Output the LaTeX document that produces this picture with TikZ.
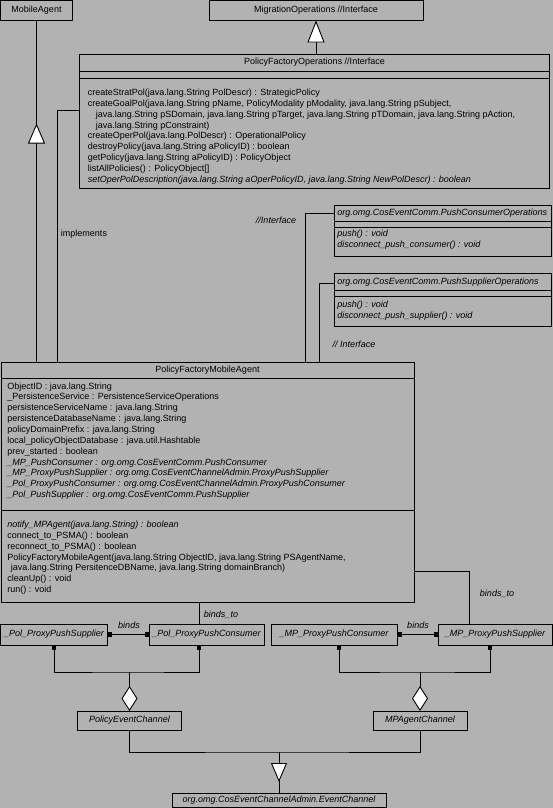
\documentclass[tikz,border=0pt]{standalone}
\usepackage{fontspec}
\setmainfont{Liberation Sans}
\usetikzlibrary{arrows.meta,calc}
\definecolor{bg}{RGB}{178,178,178}
\begin{document}
\begin{tikzpicture}[x=1pt,y=-1pt,
  line width=0.9pt,
  box/.style={draw, anchor=north west, inner sep=0pt, outer sep=0pt},
  txt/.style={anchor=west, inner sep=0pt, font=\fontsize{9}{11}\selectfont, text height=6.6pt, text depth=1.9pt},
  ttl/.style={txt, anchor=center},
  it/.style={font=\fontsize{9}{11}\selectfont\itshape},
  gen/.style={-{Triangle[length=20pt,width=17pt,fill=white]}},
  agg/.style={-{Diamond[length=25pt,width=16pt,fill=white]}},
  sq/.style={{Square[length=4.5pt,width=4.5pt]}-{Square[length=4.5pt,width=4.5pt]}},
]
\useasboundingbox (0,0) rectangle (553,808);
\fill[bg] (0,0) rectangle (553,808);

% ---------- boxes ----------
\node[box, minimum width=72pt, minimum height=20pt] (ma) at (0.5,0.5) {};
\node[box, minimum width=214pt, minimum height=20pt] (migr) at (209,0.5) {};
\node[box, minimum width=470pt, minimum height=134pt] (pfo) at (79.5,54) {};
\node[box, minimum width=413pt, minimum height=240pt] (pfma) at (1,362) {};
\node[box, minimum width=217pt, minimum height=51pt] (pco) at (334,205) {};
\node[box, minimum width=217pt, minimum height=53pt] (pso) at (334,273) {};
\node[box, minimum width=107pt, minimum height=21pt] (polsup) at (0.5,624) {};
\node[box, minimum width=115pt, minimum height=21pt] (polcon) at (149,624) {};
\node[box, minimum width=126pt, minimum height=21pt] (mpcon) at (271,624) {};
\node[box, minimum width=114pt, minimum height=21pt] (mpsup) at (438,624) {};
\node[box, minimum width=104pt, minimum height=19pt] (pec) at (77.5,711) {};
\node[box, minimum width=94pt, minimum height=19pt] (mpac) at (373,711) {};
\node[box, minimum width=214pt, minimum height=14pt] (ec) at (172,793.5) {};

% compartments
\draw ($(pfo.north west)+(0,17)$) -- ($(pfo.north east)+(0,17)$);
\draw ($(pfo.north west)+(0,24)$) -- ($(pfo.north east)+(0,24)$);
\draw ($(pfma.north west)+(0,16.5)$) -- ($(pfma.north east)+(0,16.5)$);
\draw ($(pfma.north west)+(0,148.5)$) -- ($(pfma.north east)+(0,148.5)$);
\draw ($(pco.north west)+(0,16.5)$) -- ($(pco.north east)+(0,16.5)$);
\draw ($(pco.north west)+(0,22)$) -- ($(pco.north east)+(0,22)$);
\draw ($(pso.north west)+(0,17)$) -- ($(pso.north east)+(0,17)$);
\draw ($(pso.north west)+(0,23)$) -- ($(pso.north east)+(0,23)$);

% ---------- titles ----------
\node[ttl] (tma) at (36.5,10.5) {MobileAgent};
\node[ttl] (tmigr) at (316,10.5) {MigrationOperations //Interface};
\node[ttl] (tpfo) at (314.5,62.5) {PolicyFactoryOperations //Interface};
\node[ttl] (tpfma) at (207.5,370.5) {PolicyFactoryMobileAgent};
\node[txt,it] (tpco) at (337,213.5) {org.omg.CosEventComm.PushConsumerOperations};
\node[txt,it] (tpso) at (337,282.5) {org.omg.CosEventComm.PushSupplierOperations};
\node[ttl,it] (tpolsup) at (polsup.center) {\_Pol\_ProxyPushSupplier};
\node[ttl,it] (tpolcon) at (polcon.center) {\_Pol\_ProxyPushConsumer};
\node[ttl,it] (tmpcon) at (mpcon.center) {\_MP\_ProxyPushConsumer};
\node[ttl,it] (tmpsup) at (mpsup.center) {\_MP\_ProxyPushSupplier};
\node[ttl,it] (tpec) at (pec.center) {PolicyEventChannel};
\node[ttl,it] (tmpac) at (mpac.center) {MPAgentChannel};
\node[ttl,it] (tec) at (ec.center) {org.omg.CosEventChannelAdmin.EventChannel};

% ---------- PolicyFactoryOperations methods ----------
\node[txt] (o1) at (87.5,93) {createStratPol(java.lang.String PolDescr) : StrategicPolicy};
\node[txt] (o2) at (87.5,103.9) {createGoalPol(java.lang.String pName, PolicyModality pModality, java.lang.String pSubject,};
\node[txt] (o3) at (95.5,114.8) {java.lang.String pSDomain, java.lang.String pTarget, java.lang.String pTDomain, java.lang.String pAction,};
\node[txt] (o4) at (95.5,125.7) {java.lang.String pConstraint)};
\node[txt] (o5) at (87.5,136.6) {createOperPol(java.lang.PolDescr) : OperationalPolicy};
\node[txt] (o6) at (87.5,147.5) {destroyPolicy(java.lang.String aPolicyID) : boolean};
\node[txt] (o7) at (87.5,158.4) {getPolicy(java.lang.String aPolicyID) : PolicyObject};
\node[txt] (o8) at (87.5,169.3) {listAllPolicies() : PolicyObject[]};
\node[txt,it] (o9) at (87.5,180.2) {setOperPolDescription(java.lang.String aOperPolicyID, java.lang.String NewPolDescr) : boolean};

% ---------- push interfaces ----------
\node[txt,it] (c1) at (337,234.5) {push() : void};
\node[txt,it] (c2) at (337,245.5) {disconnect\_push\_consumer() : void};
\node[txt,it] (s1) at (337,305) {push() : void};
\node[txt,it] (s2) at (337,316) {disconnect\_push\_supplier() : void};

% ---------- PolicyFactoryMobileAgent ----------
\node[txt] (a1) at (7,386.7) {ObjectID : java.lang.String};
\node[txt] (a2) at (7,397.55) {\_PersistenceService : PersistenceServiceOperations};
\node[txt] (a3) at (7,408.4) {persistenceServiceName : java.lang.String};
\node[txt] (a4) at (7,419.25) {persistenceDatabaseName : java.lang.String};
\node[txt] (a5) at (7,430.1) {policyDomainPrefix : java.lang.String};
\node[txt] (a6) at (7,440.95) {local\_policyObjectDatabase : java.util.Hashtable};
\node[txt] (a7) at (7,451.8) {prev\_started : boolean};
\node[txt,it] (a8) at (7,462.65) {\_MP\_PushConsumer : org.omg.CosEventComm.PushConsumer};
\node[txt,it] (a9) at (7,473.5) {\_MP\_ProxyPushSupplier : org.omg.CosEventChannelAdmin.ProxyPushSupplier};
\node[txt,it] (a10) at (7,484.35) {\_Pol\_ProxyPushConsumer : org.omg.CosEventChannelAdmin.ProxyPushConsumer};
\node[txt,it] (a11) at (7,495.2) {\_Pol\_PushSupplier : org.omg.CosEventComm.PushSupplier};

\node[txt,it] (m1) at (7,525) {notify\_MPAgent(java.lang.String) : boolean};
\node[txt] (m2) at (7,535.9) {connect\_to\_PSMA() : boolean};
\node[txt] (m3) at (7,546.8) {reconnect\_to\_PSMA() : boolean};
\node[txt] (m4) at (7,557.7) {PolicyFactoryMobileAgent(java.lang.String ObjectID, java.lang.String PSAgentName,};
\node[txt] (m5) at (10.5,568.6) {java.lang.String PersitenceDBName, java.lang.String domainBranch)};
\node[txt] (m6) at (7,579.5) {cleanUp() : void};
\node[txt] (m7) at (7,590.4) {run() : void};

% ---------- connectors ----------
% MobileAgent generalization
\draw (ma.south) -- (pfma.north -| ma.south);
\coordinate (mat) at ($(ma.south)+(0,103)$);
\draw[gen] ($(mat)+(0,19)$) -- (mat);
% MigrationOperations generalization
\draw[-{Triangle[length=22pt,width=17pt,fill=white]}] (migr.south |- pfo.north) -- (migr.south);
% implements
\draw ($(pfo.north west)+(0,56)$) -| ($(pfma.north west)+(56,0)$);
% interfaces
\draw ($(pco.north west)+(0,8)$) -| ($(pfma.north west)+(304,0)$);
\draw ($(pso.north west)+(0,10)$) -| ($(pfma.north west)+(318,0)$);
% binds_to
\coordinate (bt1) at ($(polcon.north west)+(50,0)$);
\draw (bt1) -- (bt1 |- pfma.south);
\draw ($(pfma.north east)+(0,209.5)$) -| ($(mpsup.north west)+(31,0)$);
% binds
\draw[sq] (polsup.east) -- (polcon.west);
\draw[sq] (mpcon.east) -- (mpsup.west);
% aggregations
\coordinate (pm) at (pec.north |- 0,672);
\draw[sq] ($(polsup.south west)+(53.5,0)$) |- (pm) -| ($(polcon.south west)+(50,0)$);
\draw[agg] (pm) -- (pec.north);
\coordinate (mm) at (mpac.north |- 0,672);
\draw[sq] ($(mpcon.south west)+(68,0)$) |- (mm) -| ($(mpsup.south west)+(52,0)$);
\draw[agg] (mm) -- (mpac.north);
% event channel generalization
\coordinate (ecj) at (ec.north |- 0,752);
\draw (pec.south) |- (ecj) -| (mpac.south);
\coordinate (ect) at ($(ecj)+(0,30)$);
\draw (ecj) -- (ec.north);
\draw[-{Triangle[length=19pt,width=16pt,fill=white]}] ($(ect)+(0,-19)$) -- (ect);

% ---------- labels ----------
\node[ttl] (limp) at (84,234) {implements};
\node[ttl,it] (lint1) at (276,221) {//Interface};
\node[ttl,it] (lint2) at (354,345) {// Interface};
\node[ttl,it] (lb1) at (129,626) {binds};
\node[ttl,it] (lb2) at (418,626) {binds};
\node[ttl,it] (lbt1) at (221,615) {binds\_to};
\node[ttl,it] (lbt2) at (497,594) {binds\_to};
\end{tikzpicture}
\end{document}
